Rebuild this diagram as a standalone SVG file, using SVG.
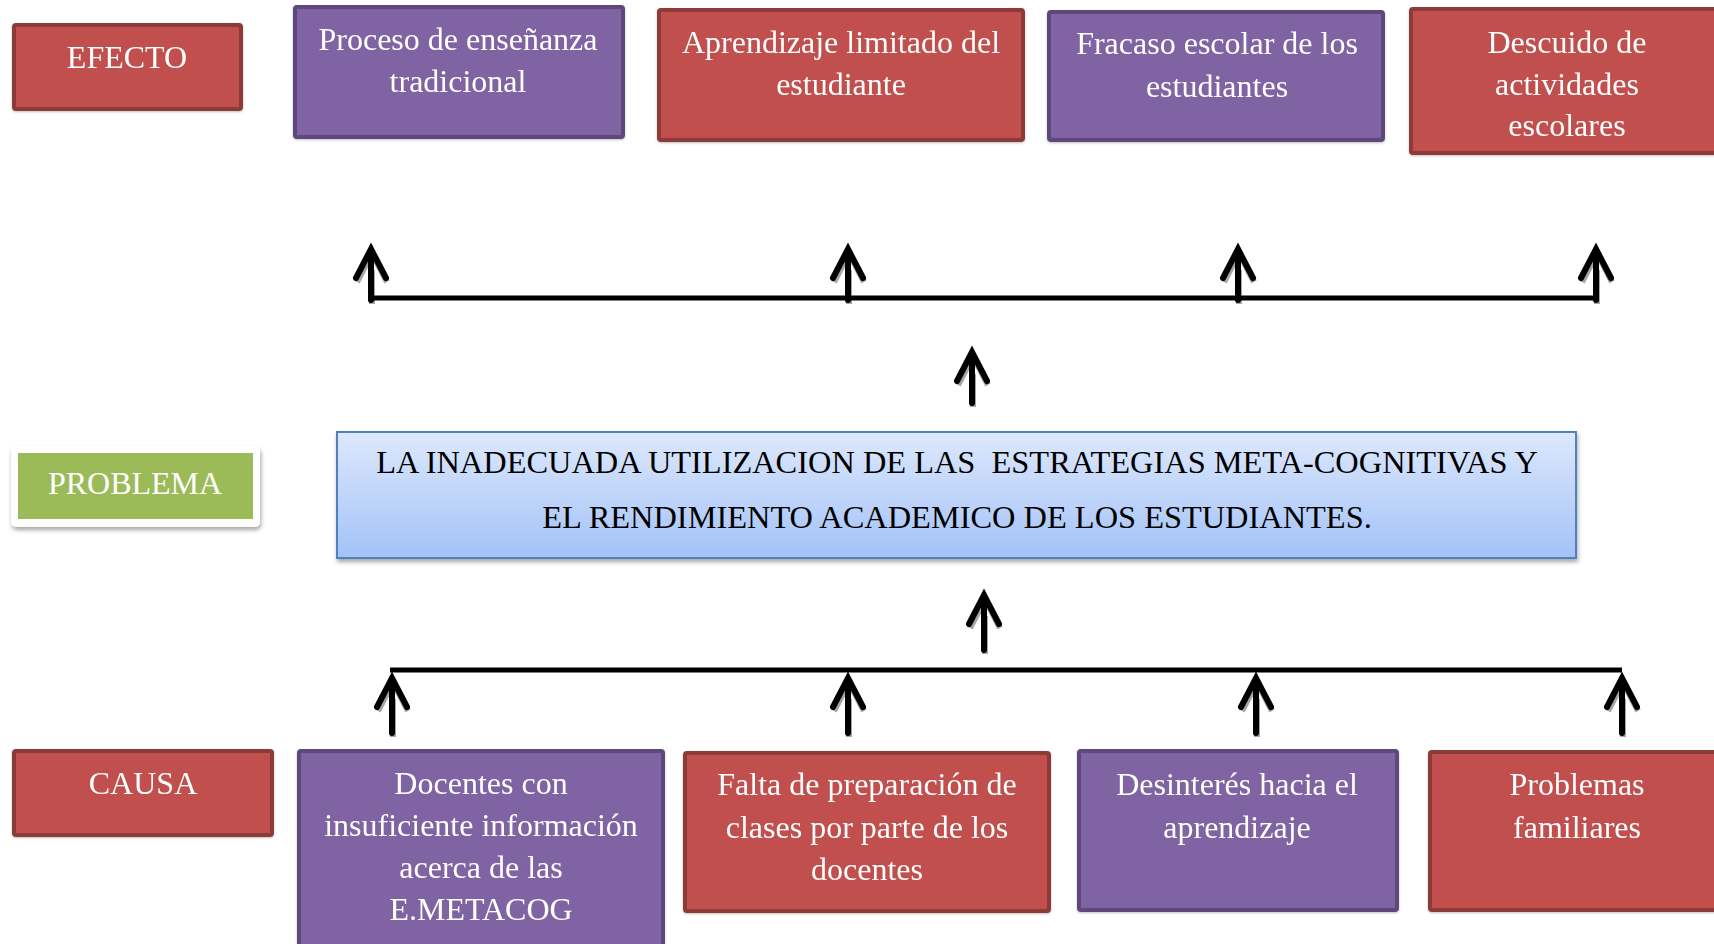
<svg xmlns="http://www.w3.org/2000/svg" width="1714" height="944" viewBox="0 0 1714 944">
<style>
.red{fill:#C0504D;stroke:#8C3A37;stroke-width:4}
.pur{fill:#8064A2;stroke:#5F4A7B;stroke-width:4}
.t{font-family:"Liberation Serif","Times New Roman",serif;font-size:32px;fill:#FFFFFF;text-anchor:middle}
.tb{font-family:"Liberation Serif","Times New Roman",serif;font-size:32.4px;fill:#000000;text-anchor:middle;white-space:pre}
.ln{fill:none;stroke:#000;stroke-width:5;stroke-linecap:butt}
.ar{fill:none;stroke:#000;stroke-width:6;stroke-linecap:round;stroke-linejoin:miter}
.sh{fill:none;stroke:#A6A6A6;stroke-width:6;stroke-linecap:butt}
</style>
<defs>
<linearGradient id="blue" x1="0" y1="0" x2="0" y2="1">
<stop offset="0" stop-color="#DDE8FD"/>
<stop offset="1" stop-color="#A3C2F7"/>
</linearGradient>
<filter id="ds" x="-10%" y="-10%" width="120%" height="130%">
<feDropShadow dx="1" dy="3" stdDeviation="2" flood-color="#000" flood-opacity="0.35"/>
</filter>
<filter id="ds2" x="-5%" y="-5%" width="110%" height="120%">
<feDropShadow dx="0" dy="1" stdDeviation="1" flood-color="#000" flood-opacity="0.25"/>
</filter>
</defs>

<g id="connectors">
<g class="sh" transform="translate(1,4)">
<path d="M371,300V266M848,300V266M1238,300V266M1596,300V266"/>
<path d="M356,278L371,249L386,278M833,278L848,249L863,278M1223,278L1238,249L1253,278M1581,278L1596,249L1611,278"/>
<path d="M972,403V370M957,381L972,352L987,381"/>
<path d="M984,650V612M969,624L984,595L999,624"/>
<path d="M392,733V695M848,733V695M1256,733V695M1622,733V695"/>
<path d="M377,707L392,678L407,707M833,707L848,678L863,707M1241,707L1256,678L1271,707M1607,707L1622,678L1637,707"/>
</g>
<path class="ln" d="M369,298H1598"/>
<path class="ln" d="M390,670H1622"/>
<g class="ar">
<path d="M371,300V252M356,278L371,249L386,278"/>
<path d="M848,300V252M833,278L848,249L863,278"/>
<path d="M1238,300V252M1223,278L1238,249L1253,278"/>
<path d="M1596,300V252M1581,278L1596,249L1611,278"/>
<path d="M972,403V355M957,381L972,352L987,381"/>
<path d="M984,650V598M969,624L984,595L999,624"/>
<path d="M392,733V681M377,707L392,678L407,707"/>
<path d="M848,733V681M833,707L848,678L863,707"/>
<path d="M1256,733V681M1241,707L1256,678L1271,707"/>
<path d="M1622,733V681M1607,707L1622,678L1637,707"/>
</g>
</g>

<g id="efecto" filter="url(#ds2)">
<rect class="red" x="14" y="25" width="227" height="84" rx="2"/>
<text class="t" x="127" y="68">EFECTO</text>
</g>
<g id="e1" filter="url(#ds2)">
<rect class="pur" x="295" y="7" width="328" height="130" rx="2"/>
<text class="t" x="458" y="50">Proceso de enseñanza<tspan x="458" y="92">tradicional</tspan></text>
</g>
<g id="e2" filter="url(#ds2)">
<rect class="red" x="659" y="10" width="364" height="130" rx="2"/>
<text class="t" x="841" y="53">Aprendizaje limitado del<tspan x="841" y="95">estudiante</tspan></text>
</g>
<g id="e3" filter="url(#ds2)">
<rect class="pur" x="1049" y="12" width="334" height="128" rx="2"/>
<text class="t" x="1217" y="54">Fracaso escolar de los<tspan x="1217" y="97">estudiantes</tspan></text>
</g>
<g id="e4" filter="url(#ds2)">
<rect class="red" x="1411" y="9" width="310" height="144" rx="2"/>
<text class="t" x="1567" y="53">Descuido de<tspan x="1567" y="95">actividades</tspan><tspan x="1567" y="136">escolares</tspan></text>
</g>

<g id="problema">
<rect x="11" y="446" width="249" height="81" rx="5" fill="#FFFFFF" filter="url(#ds)"/>
<rect x="18" y="453" width="235" height="66" fill="#9BBB59"/>
<text class="t" x="135" y="494">PROBLEMA</text>
</g>

<g id="problem-main">
<rect x="337" y="432" width="1239" height="126" fill="url(#blue)" stroke="#4F81BD" stroke-width="2" filter="url(#ds)"/>
<text class="tb" x="957" y="473">LA INADECUADA UTILIZACION DE LAS  ESTRATEGIAS META-COGNITIVAS Y</text>
<text class="tb" x="957" y="528">EL RENDIMIENTO ACADEMICO DE LOS ESTUDIANTES.</text>
</g>

<g id="causa" filter="url(#ds2)">
<rect class="red" x="14" y="751" width="258" height="84" rx="2"/>
<text class="t" x="143" y="794">CAUSA</text>
</g>
<g id="c1" filter="url(#ds2)">
<rect class="pur" x="299" y="751" width="364" height="200" rx="2"/>
<text class="t" x="481" y="794">Docentes con<tspan x="481" y="836">insuficiente información</tspan><tspan x="481" y="878">acerca de las</tspan><tspan x="481" y="920">E.METACOG</tspan></text>
</g>
<g id="c2" filter="url(#ds2)">
<rect class="red" x="685" y="753" width="364" height="158" rx="2"/>
<text class="t" x="867" y="795">Falta de preparación de<tspan x="867" y="838">clases por parte de los</tspan><tspan x="867" y="880">docentes</tspan></text>
</g>
<g id="c3" filter="url(#ds2)">
<rect class="pur" x="1079" y="751" width="318" height="159" rx="2"/>
<text class="t" x="1237" y="795">Desinterés hacia el<tspan x="1237" y="838">aprendizaje</tspan></text>
</g>
<g id="c4" filter="url(#ds2)">
<rect class="red" x="1430" y="752" width="300" height="158" rx="2"/>
<text class="t" x="1577" y="795">Problemas<tspan x="1577" y="838">familiares</tspan></text>
</g>
</svg>
